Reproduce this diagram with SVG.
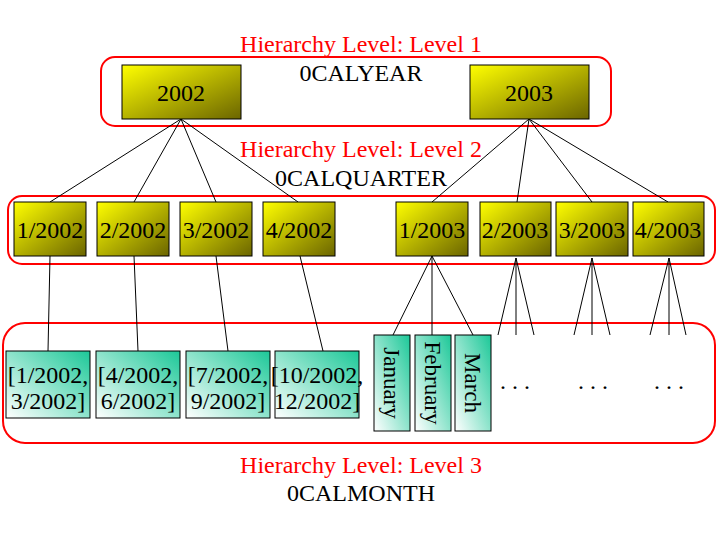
<svg xmlns="http://www.w3.org/2000/svg" width="720" height="540" viewBox="0 0 720 540">
<defs>
<linearGradient id="y" x1="0" y1="0" x2="1" y2="1"><stop offset="0" stop-color="#ffff00"/><stop offset="1" stop-color="#6b6500"/></linearGradient>
<linearGradient id="g" x1="0" y1="1" x2="1" y2="0"><stop offset="0" stop-color="#ffffff"/><stop offset="1" stop-color="#1cc898"/></linearGradient>
<style>
.lv{fill:none;stroke:#ff0000;stroke-width:2}
.yb{fill:url(#y);stroke:#000;stroke-width:1}
.gb{fill:url(#g);stroke:#000;stroke-width:1}
text{font-family:"Liberation Serif",serif;font-size:24px;text-anchor:middle}
.r{fill:#ff0000}
.mo{font-size:23px}
line{stroke:#000;stroke-width:1}
</style>
</defs>
<rect x="0" y="0" width="720" height="540" fill="#fff"/>
<rect class="lv" x="101" y="57" width="510" height="69" rx="14"/>
<rect class="lv" x="8" y="196" width="707" height="68" rx="14"/>
<rect class="lv" x="3" y="323" width="712" height="120" rx="22"/>
<text class="r" x="361" y="52">Hierarchy Level: Level 1</text>
<text x="361" y="81">0CALYEAR</text>
<text class="r" x="361" y="157">Hierarchy Level: Level 2</text>
<text x="361" y="186">0CALQUARTER</text>
<text class="r" x="361" y="473">Hierarchy Level: Level 3</text>
<text x="361" y="501">0CALMONTH</text>
<g id="connectors">
<line x1="181" y1="119" x2="50" y2="202"/><line x1="181" y1="119" x2="134" y2="202"/><line x1="181" y1="119" x2="216" y2="202"/><line x1="181" y1="119" x2="298" y2="202"/>
<line x1="529" y1="119" x2="432" y2="202"/><line x1="529" y1="119" x2="517" y2="202"/><line x1="529" y1="119" x2="592" y2="202"/><line x1="529" y1="119" x2="668" y2="202"/>
<line x1="50" y1="256" x2="48" y2="351"/><line x1="134" y1="256" x2="138" y2="351"/><line x1="216" y1="256" x2="228" y2="351"/><line x1="300" y1="256" x2="323" y2="351"/>
<line x1="432" y1="256" x2="393" y2="335"/><line x1="432" y1="256" x2="432" y2="335"/><line x1="432" y1="256" x2="473" y2="335"/>
<line x1="516" y1="258" x2="498" y2="335"/><line x1="516" y1="258" x2="516" y2="335"/><line x1="516" y1="258" x2="534" y2="335"/>
<line x1="592" y1="258" x2="574" y2="335"/><line x1="592" y1="258" x2="592" y2="335"/><line x1="592" y1="258" x2="610" y2="335"/>
<line x1="669" y1="258" x2="650" y2="335"/><line x1="669" y1="258" x2="669" y2="335"/><line x1="669" y1="258" x2="686" y2="335"/>
</g>
<g id="n2002"><rect class="yb" x="122" y="65" width="119" height="54"/><text x="181" y="101">2002</text></g>
<g id="n2003"><rect class="yb" x="470" y="65" width="119" height="54"/><text x="529" y="101">2003</text></g>
<g id="q1_2002"><rect class="yb" x="14" y="202" width="72" height="54"/><text x="50" y="238">1/2002</text></g>
<g id="q2_2002"><rect class="yb" x="97" y="202" width="72" height="54"/><text x="133" y="238">2/2002</text></g>
<g id="q3_2002"><rect class="yb" x="180" y="202" width="72" height="54"/><text x="216" y="238">3/2002</text></g>
<g id="q4_2002"><rect class="yb" x="263" y="202" width="72" height="54"/><text x="299" y="238">4/2002</text></g>
<g id="q1_2003"><rect class="yb" x="396" y="202" width="72" height="54"/><text x="432" y="238">1/2003</text></g>
<g id="q2_2003"><rect class="yb" x="480" y="202" width="71" height="54"/><text x="515" y="238">2/2003</text></g>
<g id="q3_2003"><rect class="yb" x="556" y="202" width="72" height="54"/><text x="592" y="238">3/2003</text></g>
<g id="q4_2003"><rect class="yb" x="633" y="202" width="71" height="54"/><text x="668" y="238">4/2003</text></g>
<g id="m1"><rect class="gb" x="6" y="351" width="84" height="67"/><text x="48" y="383">[1/2002,</text><text x="48" y="409">3/2002]</text></g>
<g id="m2"><rect class="gb" x="96" y="351" width="84" height="67"/><text x="138" y="383">[4/2002,</text><text x="138" y="409">6/2002]</text></g>
<g id="m3"><rect class="gb" x="186" y="351" width="84" height="67"/><text x="228" y="383">[7/2002,</text><text x="228" y="409">9/2002]</text></g>
<g id="m4"><rect class="gb" x="275" y="351" width="84" height="67"/><text x="317" y="383">[10/2002,</text><text x="317" y="409">12/2002]</text></g>
<g id="jan"><rect class="gb" x="374" y="335" width="36" height="96"/><text class="mo" transform="translate(384,383) rotate(90)">January</text></g>
<g id="feb"><rect class="gb" x="415" y="335" width="36" height="96"/><text class="mo" transform="translate(425,383) rotate(90)">February</text></g>
<g id="mar"><rect class="gb" x="455" y="335" width="36" height="96"/><text class="mo" transform="translate(465,383) rotate(90)">March</text></g>
<text x="515" y="389">. . .</text>
<text x="593" y="389">. . .</text>
<text x="669" y="389">. . .</text>
</svg>
